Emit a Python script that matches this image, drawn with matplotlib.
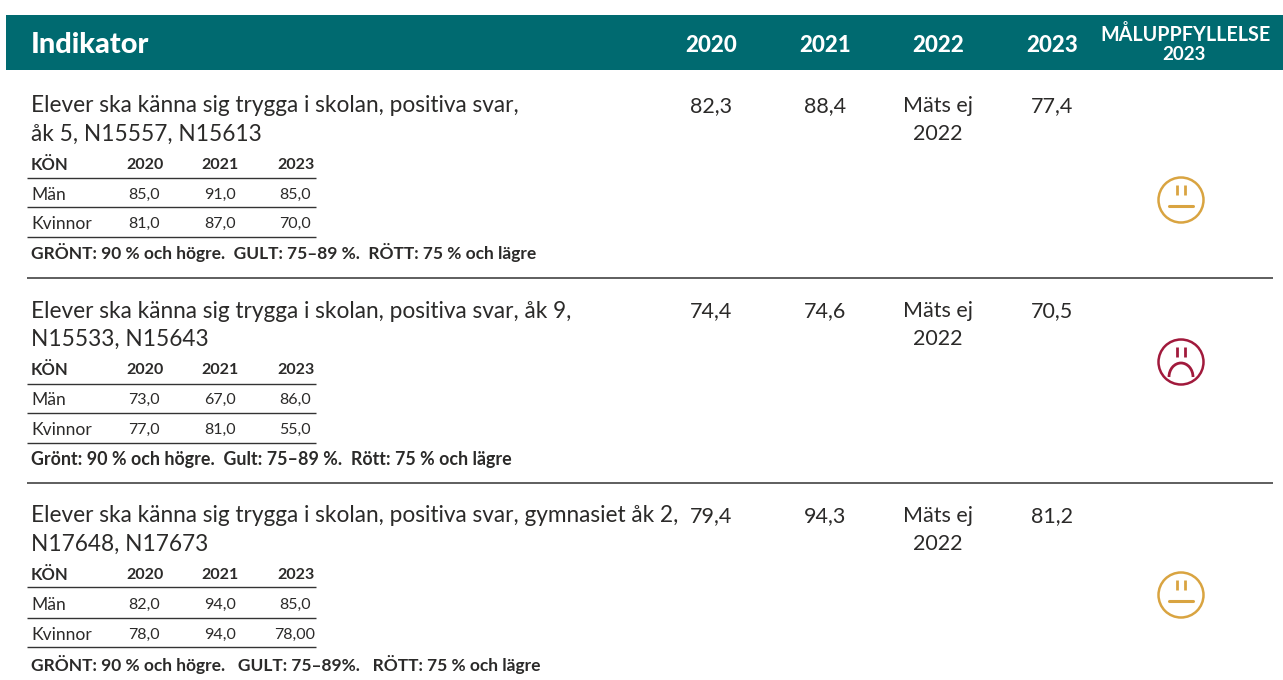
import matplotlib.pyplot as plt
from matplotlib.patches import Rectangle, Circle, Arc

plt.rcParams['font.family'] = ['Lato', 'DejaVu Sans']

header_years = ['2020', '2021', '2022', '2023']
goal_title = ['MÅLUPPFYLLELSE', '2023']

titles = [
    ['Elever ska känna sig trygga i skolan, positiva svar,', 'åk 5, N15557, N15613'],
    ['Elever ska känna sig trygga i skolan, positiva svar, åk 9,', 'N15533, N15643'],
    ['Elever ska känna sig trygga i skolan, positiva svar, gymnasiet åk 2,', 'N17648, N17673'],
]
val_2020 = ['82,3', '74,4', '79,4']
val_2021 = ['88,4', '74,6', '94,3']
val_2022 = ['Mäts ej\n2022', 'Mäts ej\n2022', 'Mäts ej\n2022']
val_2023 = ['77,4', '70,5', '81,2']

sub_years = ['2020', '2021', '2023']
men = [['85,0', '91,0', '85,0'], ['73,0', '67,0', '86,0'], ['82,0', '94,0', '85,0']]
women = [['81,0', '87,0', '70,0'], ['77,0', '81,0', '55,0'], ['78,0', '94,0', '78,00']]
notes = [
    'GRÖNT: 90 % och högre.  GULT: 75–89 %.  RÖTT: 75 % och lägre',
    'Grönt: 90 % och högre.  Gult: 75–89 %.  Rött: 75 % och lägre',
    'GRÖNT: 90 % och högre.   GULT: 75–89%.   RÖTT: 75 % och lägre',
]
note_size = [12.5, 12.85, 12.5]
status = ['yellow', 'red', 'yellow']

TEAL = '#006a70'
TXT = '#2b2a29'
face_col = {'yellow': '#d9a441', 'red': '#a11a3c'}

fig = plt.figure(figsize=(12.83, 6.8), dpi=100)
ax = fig.add_axes([0, 0, 1, 1])
ax.set_xlim(0, 1283)
ax.set_ylim(680, 0)
ax.axis('off')

# header band
ax.add_patch(Rectangle((6, 15), 1277, 55, color=TEAL, lw=0))
ax.text(31, 45, 'Indikator', color='white', fontsize=20.8, fontweight='black', va='center')
col_x = [711, 825, 938, 1052]
for x, y in zip(col_x, header_years):
    ax.text(x, 46, y, color='white', fontsize=16, fontweight='black', ha='center', va='center')
ax.text(1186, 35, goal_title[0], color='white', fontsize=14.2, fontweight='bold', ha='center', va='center')
ax.text(1184, 55, goal_title[1], color='white', fontsize=13.5, fontweight='bold', ha='center', va='center')

# y positions of each block
top = [106, 311, 516]
hdr_y = [165, 370, 575]
men_y = [195, 400, 605]
wom_y = [224, 430, 635]
note_y = [253, 459, 664]
face_y = [200, 362, 595]
sub_lines = [[178, 207, 237], [384, 413, 443], [587, 618, 647]]
sub_x = [160, 236, 311]
sub_hx = [164, 239, 315]


def draw_face(cx, cy, kind):
    c = face_col[kind]
    ax.add_patch(Circle((cx, cy), 22.5, fill=False, ec=c, lw=1.8))
    ax.plot([cx - 4, cx - 4], [cy - 15, cy - 5], color=c, lw=2, solid_capstyle='butt')
    ax.plot([cx + 4, cx + 4], [cy - 15, cy - 5], color=c, lw=2, solid_capstyle='butt')
    if kind == 'yellow':
        ax.plot([cx - 12, cx + 12], [cy + 6, cy + 6], color=c, lw=2.2, solid_capstyle='round')
    else:
        ax.add_patch(Arc((cx, cy + 15), 24, 28, theta1=180, theta2=360, ec=c, lw=2))


for i in range(3):
    ax.text(31, top[i], titles[i][0], color=TXT, fontsize=16.3, va='center')
    ax.text(31, top[i] + 28, titles[i][1], color=TXT, fontsize=16.3, va='center')
    ax.text(col_x[0], top[i], val_2020[i], color=TXT, fontsize=15.5, ha='center', va='center')
    ax.text(col_x[1], top[i], val_2021[i], color=TXT, fontsize=15.5, ha='center', va='center')
    a, b = val_2022[i].split('\n')
    ax.text(col_x[2], top[i], a, color=TXT, fontsize=15.5, ha='center', va='center')
    ax.text(col_x[2], top[i] + 28, b, color=TXT, fontsize=15.5, ha='center', va='center')
    ax.text(col_x[3], top[i], val_2023[i], color=TXT, fontsize=15.5, ha='center', va='center')

    ax.text(31, hdr_y[i], 'KÖN', color=TXT, fontsize=12, fontweight='bold', va='center')
    ax.text(31, men_y[i], 'Män', color=TXT, fontsize=12.6, va='center')
    ax.text(31, wom_y[i], 'Kvinnor', color=TXT, fontsize=12.6, va='center')
    for j in range(3):
        ax.text(sub_hx[j], hdr_y[i], sub_years[j], color=TXT, fontsize=11.5, fontweight='bold', ha='right', va='center')
        ax.text(sub_x[j], men_y[i], men[i][j], color=TXT, fontsize=11.5, ha='right', va='center')
        wx = sub_x[j] if len(women[i][j]) == 4 else 315
        ax.text(wx, wom_y[i], women[i][j], color=TXT, fontsize=11.5, ha='right', va='center')
    for ly in sub_lines[i]:
        ax.plot([27, 315.5], [ly, ly], color='#333333', lw=1, solid_capstyle='butt')
    ax.text(31, note_y[i], notes[i], color=TXT, fontsize=note_size[i], fontweight='bold', va='center')
    draw_face(1181, face_y[i], status[i])

for ly in [278, 483]:
    ax.plot([27, 1273], [ly, ly], color='#333333', lw=1.1, solid_capstyle='butt')

fig.savefig('out.png', dpi=100)
